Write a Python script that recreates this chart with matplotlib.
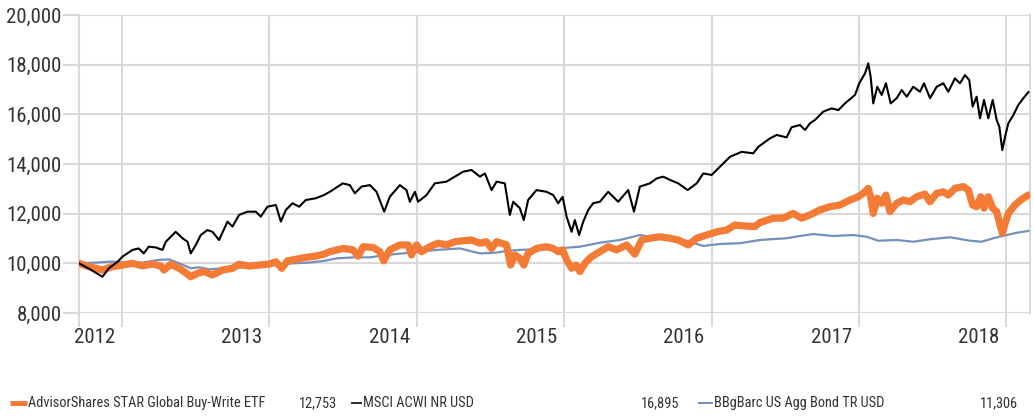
import matplotlib
matplotlib.use("Agg")
import matplotlib.pyplot as plt
import matplotlib.font_manager as fm
from matplotlib.lines import Line2D
from matplotlib.textpath import TextPath
from matplotlib.transforms import ScaledTranslation
from matplotlib.ticker import FuncFormatter

# growth of 10,000 -- x in decimal years (gridlines are year ends)
fund_t = [2012.710, 2012.776, 2012.869, 2012.937, 2013.005, 2013.073, 2013.140, 2013.208, 2013.265, 2013.287,
          2013.332, 2013.389, 2013.434, 2013.468, 2013.514, 2013.558, 2013.615, 2013.683, 2013.751, 2013.796,
          2013.864, 2013.931, 2013.999, 2014.045, 2014.085, 2014.124, 2014.180, 2014.248, 2014.316, 2014.372,
          2014.411, 2014.501, 2014.569, 2014.603, 2014.637, 2014.705, 2014.750, 2014.777, 2014.818, 2014.886,
          2014.942, 2014.965, 2014.999, 2015.033, 2015.090, 2015.146, 2015.203, 2015.259, 2015.315, 2015.372,
          2015.429, 2015.474, 2015.508, 2015.542, 2015.610, 2015.637, 2015.666, 2015.700, 2015.727, 2015.756,
          2015.813, 2015.881, 2015.926, 2015.960, 2015.990, 2016.017, 2016.051, 2016.080, 2016.107, 2016.141,
          2016.187, 2016.243, 2016.299, 2016.356, 2016.424, 2016.480, 2016.526, 2016.582, 2016.650, 2016.718,
          2016.774, 2016.842, 2016.899, 2016.967, 2017.035, 2017.102, 2017.159, 2017.238, 2017.294, 2017.328,
          2017.419, 2017.486, 2017.554, 2017.611, 2017.668, 2017.735, 2017.803, 2017.871, 2017.939, 2017.995,
          2018.029, 2018.063, 2018.079, 2018.097, 2018.124, 2018.154, 2018.183, 2018.210, 2018.256, 2018.301,
          2018.346, 2018.391, 2018.448, 2018.482, 2018.527, 2018.572, 2018.606, 2018.651, 2018.708, 2018.742,
          2018.771, 2018.798, 2018.826, 2018.848, 2018.877, 2018.907, 2018.934, 2018.957, 2018.972, 2018.991,
          2019.013, 2019.058, 2019.104, 2019.149]
fund_v = [10000, 9870, 9730, 9870, 9930, 10000, 9900, 9970, 9890, 9730,
          9960, 9800, 9620, 9460, 9600, 9670, 9530, 9730, 9800, 9960,
          9890, 9930, 9970, 10060, 9800, 10100, 10160, 10240, 10290, 10370,
          10470, 10600, 10540, 10290, 10670, 10640, 10470, 10100, 10540, 10740,
          10740, 10340, 10740, 10470, 10670, 10810, 10740, 10870, 10910, 10940,
          10810, 10870, 10600, 10870, 10740, 9930, 10340, 10200, 9930, 10400,
          10600, 10670, 10600, 10470, 10540, 10140, 9800, 9930, 9670, 10000,
          10270, 10470, 10670, 10540, 10740, 10370, 10940, 11010, 11070, 11010,
          10940, 10740, 11010, 11140, 11270, 11340, 11540, 11500, 11480, 11640,
          11820, 11820, 12010, 11820, 11950, 12150, 12280, 12350, 12550, 12680,
          12820, 13020, 12680, 12010, 12620, 12420, 12750, 12080, 12420, 12550,
          12480, 12680, 12790, 12480, 12820, 12880, 12750, 13020, 13090, 12950,
          12350, 12280, 12680, 12220, 12680, 12220, 12080, 11540, 11210, 11610,
          12010, 12350, 12580, 12753]

acwi_t = [2012.710, 2012.776, 2012.869, 2012.912, 2012.971, 2013.005, 2013.073, 2013.115, 2013.149, 2013.183,
          2013.231, 2013.276, 2013.299, 2013.366, 2013.412, 2013.446, 2013.468, 2013.502, 2013.536, 2013.581,
          2013.615, 2013.660, 2013.717, 2013.751, 2013.796, 2013.853, 2013.909, 2013.943, 2013.988, 2014.045,
          2014.079, 2014.113, 2014.158, 2014.203, 2014.248, 2014.316, 2014.372, 2014.411, 2014.499, 2014.547,
          2014.581, 2014.626, 2014.683, 2014.728, 2014.780, 2014.818, 2014.886, 2014.931, 2014.954, 2014.988,
          2015.010, 2015.067, 2015.123, 2015.203, 2015.259, 2015.315, 2015.372, 2015.429, 2015.463, 2015.508,
          2015.542, 2015.598, 2015.632, 2015.655, 2015.700, 2015.727, 2015.756, 2015.813, 2015.881, 2015.926,
          2015.960, 2015.990, 2016.017, 2016.051, 2016.073, 2016.102, 2016.130, 2016.164, 2016.197, 2016.243,
          2016.299, 2016.367, 2016.435, 2016.474, 2016.514, 2016.582, 2016.628, 2016.672, 2016.718, 2016.774,
          2016.838, 2016.899, 2016.944, 2017.001, 2017.057, 2017.125, 2017.204, 2017.283, 2017.317, 2017.396,
          2017.442, 2017.509, 2017.543, 2017.600, 2017.634, 2017.668, 2017.701, 2017.758, 2017.815, 2017.860,
          2017.905, 2017.973, 2018.002, 2018.041, 2018.063, 2018.079, 2018.097, 2018.124, 2018.154, 2018.183,
          2018.215, 2018.256, 2018.290, 2018.324, 2018.368, 2018.414, 2018.441, 2018.482, 2018.527, 2018.572,
          2018.606, 2018.651, 2018.685, 2018.719, 2018.748, 2018.771, 2018.798, 2018.821, 2018.848, 2018.877,
          2018.907, 2018.934, 2018.952, 2018.972, 2018.991, 2019.013, 2019.047, 2019.081, 2019.115, 2019.149]
acwi_v = [10000, 9790, 9460, 9800, 10060, 10270, 10540, 10600, 10400, 10670,
          10640, 10540, 10870, 11270, 11010, 10870, 10400, 10740, 11140, 11340,
          11270, 10940, 11680, 11480, 11950, 12080, 12080, 11880, 12280, 12350,
          11680, 12150, 12420, 12280, 12550, 12620, 12750, 12880, 13220, 13150,
          12820, 13090, 13150, 12880, 12080, 12680, 13150, 12950, 12480, 12880,
          12480, 12750, 13220, 13290, 13490, 13690, 13760, 13490, 13620, 12950,
          13290, 13220, 11950, 12480, 12220, 11740, 12550, 12950, 12880, 12750,
          12420, 12680, 11880, 11270, 11740, 11140, 11680, 12150, 12420, 12480,
          12880, 12480, 12950, 12080, 13090, 13220, 13420, 13490, 13360, 13220,
          12950, 13220, 13620, 13560, 13890, 14290, 14490, 14430, 14690, 15030,
          15170, 15070, 15480, 15570, 15370, 15640, 15770, 16110, 16240, 16170,
          16440, 16780, 17250, 17650, 18050, 17520, 16440, 17110, 16780, 17250,
          16440, 16650, 16980, 16710, 17110, 16910, 17250, 16650, 17110, 17250,
          16910, 17450, 17250, 17580, 17380, 16310, 16710, 15840, 16580, 15840,
          16580, 15770, 15500, 14560, 15100, 15640, 15970, 16380, 16650, 16895]

bond_t = [2012.710, 2012.824, 2012.937, 2013.027, 2013.140, 2013.253, 2013.321, 2013.389, 2013.468, 2013.524,
          2013.592, 2013.683, 2013.819, 2013.955, 2014.045, 2014.158, 2014.271, 2014.372, 2014.457, 2014.569,
          2014.683, 2014.796, 2014.908, 2015.022, 2015.135, 2015.293, 2015.361, 2015.429, 2015.542, 2015.610,
          2015.700, 2015.813, 2015.926, 2016.039, 2016.107, 2016.243, 2016.379, 2016.514, 2016.582, 2016.718,
          2016.831, 2016.944, 2017.057, 2017.193, 2017.328, 2017.509, 2017.600, 2017.690, 2017.826, 2017.961,
          2018.052, 2018.131, 2018.256, 2018.368, 2018.482, 2018.617, 2018.753, 2018.832, 2018.911, 2019.002,
          2019.070, 2019.149]
bond_v = [10000, 10030, 10070, 10030, 10030, 10140, 10160, 10000, 9800, 9840,
          9760, 9800, 9840, 9890, 9930, 10000, 10030, 10100, 10200, 10240,
          10240, 10340, 10400, 10470, 10540, 10600, 10500, 10400, 10430, 10500,
          10540, 10570, 10570, 10640, 10670, 10830, 10940, 11140, 11070, 11010,
          10910, 10700, 10780, 10810, 10940, 11010, 11100, 11180, 11100, 11140,
          11070, 10910, 10940, 10870, 10970, 11050, 10910, 10870, 11010, 11140,
          11230, 11306]

year_ends = [2013, 2014, 2015, 2016, 2017, 2018, 2019]
year_labels = ['2012', '2013', '2014', '2015', '2016', '2017', '2018']
y_ticks = [8000, 10000, 12000, 14000, 16000, 18000, 20000]

names = ['AdvisorShares STAR Global Buy-Write ETF', 'MSCI ACWI NR USD', 'BBgBarc US Agg Bond TR USD']
end_values = ['12,753', '16,895', '11,306']
colors = ['#f47b36', '#000000', '#7590bd']

# the reference uses a condensed face; take the narrowest one that is installed
have = [(f.name, f.stretch) for f in fm.fontManager.ttflist]
names_only = [h[0] for h in have]
stretch = 'normal'
if 'Liberation Sans Narrow' in names_only:
    family = 'Liberation Sans Narrow'
elif 'Roboto Condensed' in names_only:
    family = 'Roboto Condensed'
elif ('DejaVu Sans', 'condensed') in have or ('DejaVu Sans', 600) in have:
    family, stretch = 'DejaVu Sans', 'condensed'
elif 'Roboto' in names_only:
    family = 'Roboto'
else:
    family = 'DejaVu Sans'
plt.rcParams['font.family'] = [family, 'DejaVu Sans']
plt.rcParams['font.stretch'] = stretch
fp = fm.FontProperties(family=family, stretch=stretch)


def fit_size(s, px, top):
    # largest size (<= top) whose rendered width is about px pixels
    w = TextPath((0, 0), s, size=10, prop=fp).get_extents().width * 100 / 72
    return min(top, 10 * px / w)


tick_fs = fit_size('20,000', 58, 15)
leg_fs = fit_size(names[0], 238, 10.5)

grid_c = '#d9d9d9'
text_c = '#333333'

fig = plt.figure(figsize=(10.34, 4.16), dpi=100)
ax = fig.add_axes([79 / 1034, 1 - 313 / 416, (1030 - 79) / 1034, (313 - 15) / 416])

ax.plot(bond_t, bond_v, color=colors[2], lw=1.6, zorder=3)
ax.plot(fund_t, fund_v, color=colors[0], lw=5.2, solid_joinstyle='round', solid_capstyle='round', zorder=4)
ax.plot(acwi_t, acwi_v, color=colors[1], lw=1.5, zorder=5)

xmin, xmax = 2012.710, 2019.160
ax.set_xlim(xmin, xmax)
ax.set_ylim(8000, 20000)

ax.set_xticks([xmin] + year_ends)
ax.set_xticklabels([''] + year_labels)
ax.set_yticks(y_ticks)
ax.yaxis.set_major_formatter(FuncFormatter(lambda v, p: f'{int(v):,}'))

ax.grid(True, color=grid_c, lw=1.5)
ax.set_axisbelow(True)
for s in ['top', 'bottom']:
    ax.spines[s].set_visible(False)
for s in ['left', 'right']:
    ax.spines[s].set_color(grid_c)
    ax.spines[s].set_linewidth(1.5)

ax.tick_params(axis='x', length=10, width=1.5, color=grid_c, pad=1, labelsize=tick_fs, labelcolor=text_c)
ax.tick_params(axis='y', length=11.5, width=1.5, color=grid_c, pad=1, labelsize=tick_fs, labelcolor=text_c)
off = ScaledTranslation(-7 / 100, 0, fig.dpi_scale_trans)
for lab in ax.get_xticklabels():
    lab.set_horizontalalignment('right')
    lab.set_transform(lab.get_transform() + off)

# legend row at the bottom
ly = 1 - 403 / 416
handles = [(10, 27, 5.0), (351, 362, 1.6), (698, 713, 2.0)]
text_x = [28, 363, 714]
val_x = [337, 679, 1018]
for i in range(3):
    x0, x1, w = handles[i]
    fig.add_artist(Line2D([x0 / 1034, x1 / 1034], [ly, ly], color=colors[i], lw=w * 0.72,
                          solid_capstyle='butt', transform=fig.transFigure))
    fig.text(text_x[i] / 1034, ly, names[i], ha='left', va='center', fontsize=leg_fs, color=text_c)
    fig.text(val_x[i] / 1034, ly, end_values[i], ha='right', va='center', fontsize=leg_fs, color=text_c)

fig.savefig('out.png', dpi=100)
